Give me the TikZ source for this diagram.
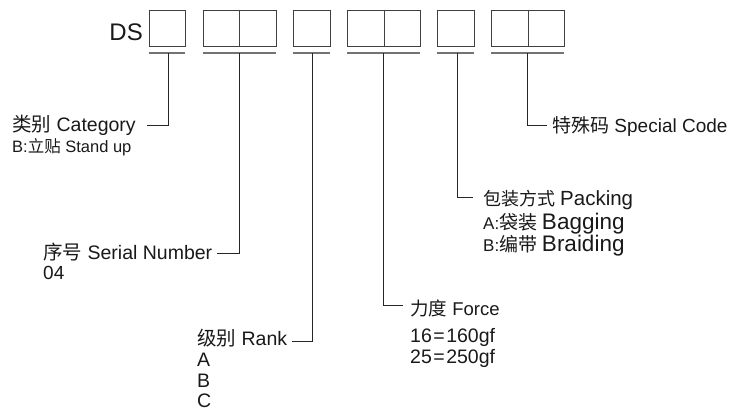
\documentclass[tikz,border=0pt]{standalone}
\usepackage{fontspec}
\setmainfont{Liberation Sans}
\newfontfamily\cjk{Noto Sans CJK SC}
\newcommand{\fs}[1]{\fontsize{#1}{#1}\selectfont}
\begin{document}
\begin{tikzpicture}[x=1pt,y=-1pt]
\tikzset{
  cell/.style={draw=black!75, line width=1.1pt, minimum width=36.5pt, minimum height=36pt, inner sep=0pt, anchor=north west},
  uline/.style={draw=black!55, line width=1.6pt},
  conn/.style={draw=black!85, line width=1pt},
  lbl/.style={anchor=base west, inner sep=0pt, text=black!90},
}
\useasboundingbox (0,0) rectangle (738,410);
% prefix
\node[anchor=base east, inner sep=0pt, text=black!90] (ds) at (143,40) {\fs{24}DS};
% cells
\node[cell] (c1) at (148.5,10) {};
\node[cell] (c2a) at (202.5,10) {};
\node[cell] (c2b) at (239,10) {};
\node[cell] (c3) at (293,10) {};
\node[cell] (c4a) at (347,10) {};
\node[cell] (c4b) at (383.5,10) {};
\node[cell] (c5) at (437,10) {};
\node[cell] (c6a) at (491,10) {};
\node[cell] (c6b) at (527.5,10) {};
% underlines
\draw[uline] (148.5,53) -- (185,53);
\draw[uline] (202.5,53) -- (275.5,53);
\draw[uline] (293,53) -- (329.5,53);
\draw[uline] (347,53) -- (420,53);
\draw[uline] (437,53) -- (473.5,53);
\draw[uline] (491,53) -- (564,53);
% connector start points
\coordinate (v1) at (168,53);
\coordinate (v2) at (239,53);
\coordinate (v3) at (312.5,53);
\coordinate (v4) at (383.5,53);
\coordinate (v5) at (457,53);
\coordinate (v6) at (527.5,53);
% connector ends
\coordinate (e1) at (147,125);
\coordinate (e2) at (217,253);
\coordinate (e3) at (292,341);
\coordinate (e4) at (403,305);
\coordinate (e5) at (473,197);
\coordinate (e6) at (547,125);
\draw[conn] (v1) |- (e1);
\draw[conn] (v2) |- (e2);
\draw[conn] (v3) |- (e3);
\draw[conn] (v4) |- (e4);
\draw[conn] (v5) |- (e5);
\draw[conn] (v6) |- (e6);
% labels
\node[lbl] (cat) at (12,131) {\fs{19.5}{\cjk 类别} Category};
\node[lbl] (catb) at (12,152) {\fs{16.5}B:{\cjk 立贴} Stand up};
\node[lbl] (ser) at (43,259) {\fs{19.5}{\cjk 序号} Serial Number};
\node[lbl] (ser1) at (43,279) {\fs{19}04};
\node[lbl] (rank) at (197,345) {\fs{19.5}{\cjk 级别} Rank};
\node[lbl] (ra) at (197,366.5) {\fs{19.5}A};
\node[lbl] (rb) at (197,387) {\fs{19.5}B};
\node[lbl] (rc) at (197,407) {\fs{19.5}C};
\node[lbl] (force) at (410,315) {\fs{18.5}{\cjk 力度} Force};
\node[lbl] (f1) at (410,342) {\fs{19.5}16{\kern1.5pt}={\kern1.5pt}160gf};
\node[lbl] (f2) at (410,363) {\fs{19.5}25{\kern1.5pt}={\kern1.5pt}250gf};
\node[lbl] (pack) at (483,205) {\fs{18}{\cjk 包装方式} {\fs{20.5}Packing}};
\node[lbl] (pa) at (483,229) {\fs{17}A:{\cjk\fs{19}袋装} {\fs{22.5}Bagging}};
\node[lbl] (pb) at (483,251) {\fs{17}B:{\cjk\fs{19}编带} {\fs{22.5}Braiding}};
\node[lbl] (spec) at (552,132) {\fs{19}{\cjk 特殊码} Special Code};
\end{tikzpicture}
\end{document}
